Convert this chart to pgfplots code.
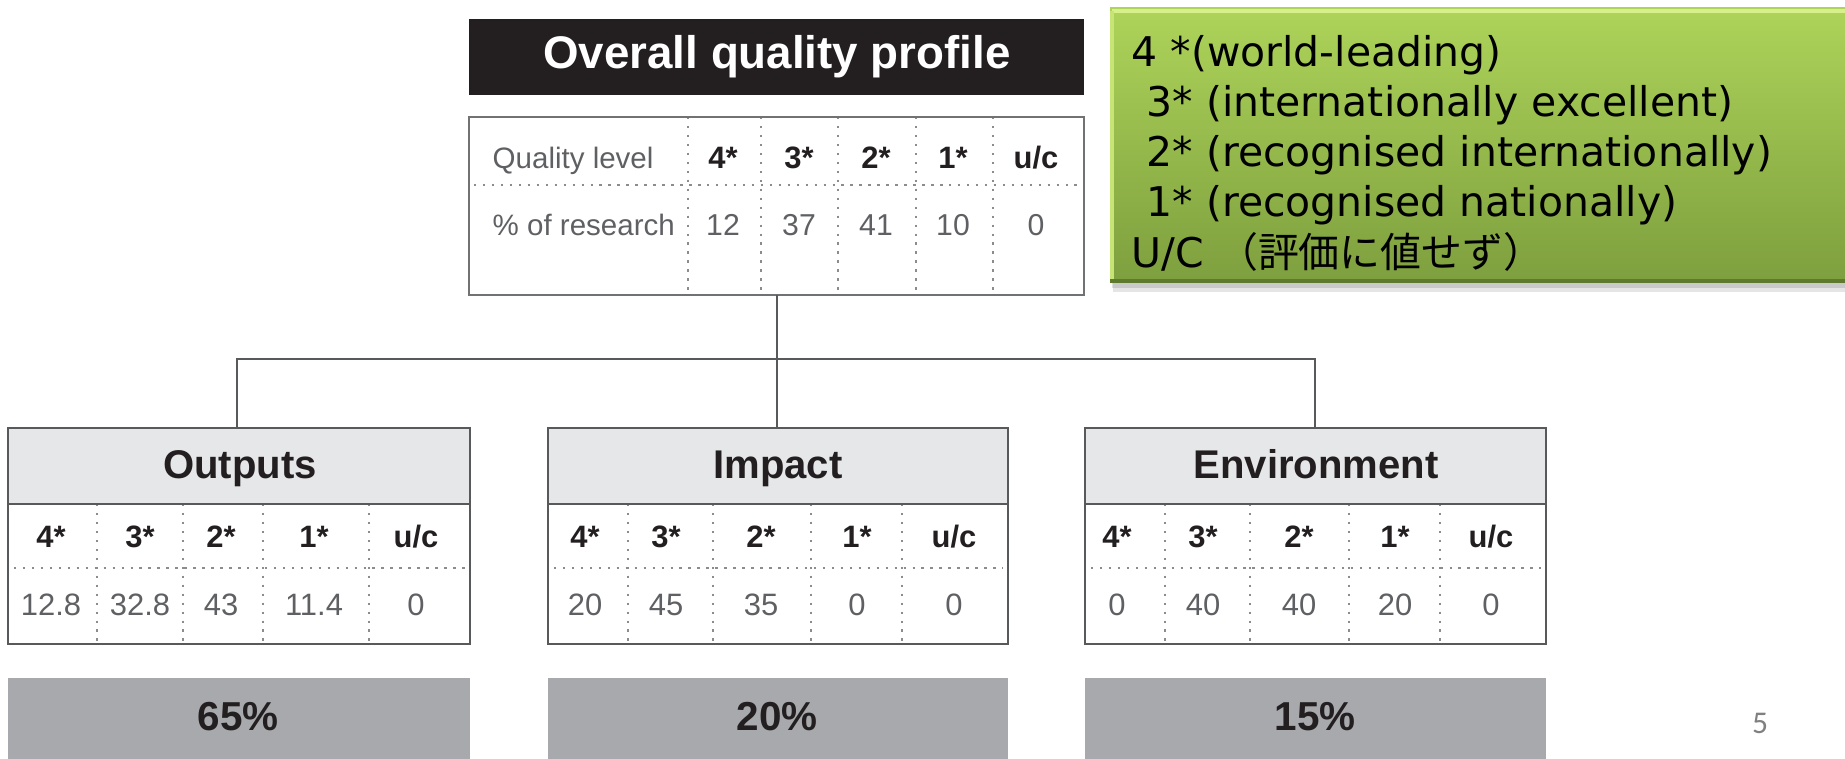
\documentclass[border=0pt]{standalone}
\usepackage{pgfplots}
\pgfplotsset{compat=1.18}
\usepackage{fontspec}
\setmainfont{Liberation Sans}
\newfontfamily\dejavu{DejaVu Sans}
\newfontfamily\cjk{Noto Sans CJK JP}
\newfontfamily\carlito{Carlito}
\definecolor{ink}{HTML}{231F20}
\definecolor{frame}{HTML}{58595B}
\definecolor{numgray}{HTML}{5F6063}
\definecolor{headfill}{HTML}{E6E7E8}
\definecolor{barfill}{HTML}{A7A9AC}
\definecolor{dotgray}{HTML}{8C8C8C}
\definecolor{gtop}{HTML}{AED45A}
\definecolor{gbot}{HTML}{7E9F3E}
\definecolor{ghi}{HTML}{D8F08A}
\definecolor{glo}{HTML}{5E7A2E}
\newcommand\fs[1]{\fontsize{#1}{#1}\selectfont}
\pgfplotsset{
  txt/.style={only marks, mark=*, mark size=0pt, mark options={draw=none,fill=none},
    nodes near coords, point meta=explicit symbolic,
    every node near coord/.append style={anchor=base, inner sep=0pt}},
}
\tikzset{dots/.style={dotgray, line width=0.7pt, dash pattern=on 0.7pt off 1.85pt}}
\begin{document}
\begin{tikzpicture}
\begin{axis}[
  width=18.45cm, height=7.58cm, scale only axis,
  xmin=0, xmax=1845, ymin=0, ymax=758, y dir=reverse,
  hide axis, clip=false,
]
\coordinate (BL) at (axis cs:0,758);
\coordinate (TR) at (axis cs:1845,0);
% ---------- green legend box ----------
\fill[black, opacity=0.10] (axis cs:1113,12) rectangle (axis cs:1850,292);
\fill[black, opacity=0.12] (axis cs:1112,10) rectangle (axis cs:1850,288);
\shade[top color=gtop, bottom color=gbot] (axis cs:1110,7) rectangle (axis cs:1850,282);
\draw[ghi, line width=1.2pt] (axis cs:1112,11) -- (axis cs:1850,11);
\draw[ghi!60!gtop, line width=1pt] (axis cs:1112,11) -- (axis cs:1112,280);
\draw[glo, line width=1pt] (axis cs:1110,281) -- (axis cs:1850,281);
\node[anchor=base west, inner sep=0pt] at (axis cs:1131,66) {\dejavu\fs{11.65}4 *(world-leading)};
\node[anchor=base west, inner sep=0pt] at (axis cs:1146,116) {\dejavu\fs{11.65}3* (internationally excellent)};
\node[anchor=base west, inner sep=0pt] at (axis cs:1146,166) {\dejavu\fs{11.65}2* (recognised internationally)};
\node[anchor=base west, inner sep=0pt] at (axis cs:1146,216) {\dejavu\fs{11.65}1* (recognised nationally)};
\node[anchor=base west, inner sep=0pt] at (axis cs:1131,267) {\dejavu\fs{11.65}U/C {\cjk （評価に値せず）}};
% ---------- overall profile ----------
\fill[ink] (axis cs:469,19) rectangle (axis cs:1084,95);
\node[anchor=base, text=white, inner sep=0pt] at (axis cs:777,68) {\bfseries\fs{13}Overall quality profile};
\draw[dots] (axis cs:688,117) -- (axis cs:688,295);
\draw[dots] (axis cs:761,117) -- (axis cs:761,295);
\draw[dots] (axis cs:838,117) -- (axis cs:838,295);
\draw[dots] (axis cs:916,117) -- (axis cs:916,295);
\draw[dots] (axis cs:993,117) -- (axis cs:993,295);
\draw[dots] (axis cs:474,185) -- (axis cs:1080,185);
\draw[frame!85, line width=0.65pt] (axis cs:469,117) rectangle (axis cs:1084,295);
\node[anchor=base west, text=numgray, inner sep=0pt] at (axis cs:492,168) {\fs{8.4}Quality level};
\node[anchor=base west, text=numgray, inner sep=0pt] at (axis cs:492,235) {\fs{8.4}\% of research};
% connectors
\draw[frame, line width=0.6pt] (axis cs:777,295) -- (axis cs:777,359);
\draw[frame, line width=0.6pt] (axis cs:237,428) -- (axis cs:237,359) -- (axis cs:1315,359) -- (axis cs:1315,428);
\draw[frame, line width=0.6pt] (axis cs:777,359) -- (axis cs:777,428);
% ---------- Outputs ----------
\fill[headfill] (axis cs:8,428) rectangle (axis cs:470,504);
\draw[dots] (axis cs:97,504) -- (axis cs:97,644);
\draw[dots] (axis cs:183,504) -- (axis cs:183,644);
\draw[dots] (axis cs:263,504) -- (axis cs:263,644);
\draw[dots] (axis cs:369,504) -- (axis cs:369,644);
\draw[dots] (axis cs:14,568) -- (axis cs:465,568);
\draw[frame, line width=0.65pt] (axis cs:8,428) rectangle (axis cs:470,644);
\draw[frame, line width=0.65pt] (axis cs:8,504) -- (axis cs:470,504);
\fill[barfill] (axis cs:8,678) rectangle (axis cs:470,765);
\node[anchor=base, text=ink, inner sep=0pt] at (axis cs:240,478) {\bfseries\fs{11.4}Outputs};
% ---------- Impact ----------
\fill[headfill] (axis cs:548,428) rectangle (axis cs:1008,504);
\draw[dots] (axis cs:628,504) -- (axis cs:628,644);
\draw[dots] (axis cs:713,504) -- (axis cs:713,644);
\draw[dots] (axis cs:811,504) -- (axis cs:811,644);
\draw[dots] (axis cs:902,504) -- (axis cs:902,644);
\draw[dots] (axis cs:554,568) -- (axis cs:1003,568);
\draw[frame, line width=0.65pt] (axis cs:548,428) rectangle (axis cs:1008,644);
\draw[frame, line width=0.65pt] (axis cs:548,504) -- (axis cs:1008,504);
\fill[barfill] (axis cs:548,678) rectangle (axis cs:1008,765);
\node[anchor=base, text=ink, inner sep=0pt] at (axis cs:778,478) {\bfseries\fs{11.4}Impact};
% ---------- Environment ----------
\fill[headfill] (axis cs:1085,428) rectangle (axis cs:1546,504);
\draw[dots] (axis cs:1165,504) -- (axis cs:1165,644);
\draw[dots] (axis cs:1250,504) -- (axis cs:1250,644);
\draw[dots] (axis cs:1349,504) -- (axis cs:1349,644);
\draw[dots] (axis cs:1440,504) -- (axis cs:1440,644);
\draw[dots] (axis cs:1091,568) -- (axis cs:1541,568);
\draw[frame, line width=0.65pt] (axis cs:1085,428) rectangle (axis cs:1546,644);
\draw[frame, line width=0.65pt] (axis cs:1085,504) -- (axis cs:1546,504);
\fill[barfill] (axis cs:1085,678) rectangle (axis cs:1546,765);
\node[anchor=base, text=ink, inner sep=0pt] at (axis cs:1316,478) {\bfseries\fs{11.4}Environment};
% page number
\node[anchor=base, text=gray, inner sep=0pt] at (axis cs:1760,733) {\carlito\fs{9}5};
% ---------- data: overall profile ----------
\addplot[txt, every node near coord/.append style={font=\bfseries\fs{8.8}, text=ink}] table[meta=t] {
x y t
723 168 4*
799 168 3*
876 168 2*
953 168 1*
1036 168 u/c
};
\addplot[txt, every node near coord/.append style={font=\fs{8.6}, text=numgray}] table[meta=t] {
x y t
723 235 12
799 235 37
876 235 41
953 235 10
1036 235 0
};
% ---------- data: sub-profiles headers ----------
\addplot[txt, every node near coord/.append style={font=\bfseries\fs{8.8}, text=ink}] table[meta=t] {
x y t
51 547 4*
140 547 3*
221 547 2*
314 547 1*
416 547 u/c
585 547 4*
666 547 3*
761 547 2*
857 547 1*
954 547 u/c
1117 547 4*
1203 547 3*
1299 547 2*
1395 547 1*
1491 547 u/c
};
% Outputs values
\addplot[txt, every node near coord/.append style={font=\fs{8.8}, text=numgray}] table[meta=t] {
x y t
51 615 12.8
140 615 32.8
221 615 43
314 615 11.4
416 615 0
};
% Impact values
\addplot[txt, every node near coord/.append style={font=\fs{8.8}, text=numgray}] table[meta=t] {
x y t
585 615 20
666 615 45
761 615 35
857 615 0
954 615 0
};
% Environment values
\addplot[txt, every node near coord/.append style={font=\fs{8.8}, text=numgray}] table[meta=t] {
x y t
1117 615 0
1203 615 40
1299 615 40
1395 615 20
1491 615 0
};
% weights
\addplot[txt, nodes near coords={\pgfplotspointmeta\%}, every node near coord/.append style={font=\bfseries\fs{11.5}, text=ink}] table[meta=t] {
x y t
238 730 65
777 730 20
1315 730 15
};
\end{axis}
\pgfresetboundingbox
\useasboundingbox (BL) rectangle (TR);
\end{tikzpicture}
\end{document}
